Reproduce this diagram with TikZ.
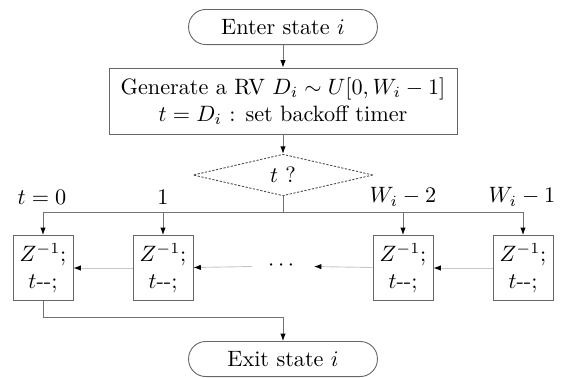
\documentclass[tikz,border=0pt]{standalone}
\usepackage{amsmath}
\usepackage{amssymb}
\usetikzlibrary{shapes.geometric,arrows.meta}

\begin{document}
\begin{tikzpicture}[x=0.45pt,y=-0.45pt,line width=0.4pt,
    term/.style={draw=black!60,rounded corners=7.8pt,minimum width=85pt,minimum height=15.8pt},
    proc/.style={draw=black!60,minimum width=156.6pt,minimum height=29.7pt,align=center,inner sep=1pt},
    test/.style={diamond,draw=black!70,dash pattern=on 1pt off 0.7pt,minimum width=81pt,minimum height=16.2pt,inner sep=0pt},
    cell/.style={draw=black!60,minimum width=27pt,minimum height=29.3pt,align=center,inner sep=0.5pt},
    arr/.style={draw=black!55,-{Latex[length=3.3pt,width=2.4pt,color=black]}},
    back/.style={draw=black!22,-{Latex[length=3.3pt,width=2.4pt,color=black]}}]
    \useasboundingbox (0,0) rectangle (570,377);
    \node[term] (enter) at (283,27) {Enter state $i$};
    \node[proc] (gen) at (283,101) {Generate a RV $D_i\sim U[0,W_i-1]$\\ $t=D_i$ : set backoff timer};
    \node[test] (dec) at (283,175) {$t$ ?};
    \coordinate (split) at (283,212);
    \node[cell] (c0) at (43,268) {$Z^{-1}$;\\ $t$-{}-;};
    \node[cell] (c1) at (163,268) {$Z^{-1}$;\\ $t$-{}-;};
    \node[minimum width=27.5pt] (dots) at (283,266) {$\cdots$};
    \node[cell] (c2) at (403,268) {$Z^{-1}$;\\ $t$-{}-;};
    \node[cell] (c3) at (523,268) {$Z^{-1}$;\\ $t$-{}-;};
    \node (l0) at (42,197) {$t=0$};
    \node (l1) at (163,197) {$1$};
    \node (l2) at (403,197) {$W_i-2$};
    \node (l3) at (522,197) {$W_i-1$};
    \coordinate (join) at (283,317);
    \node[term] (exit) at (283,359) {Exit state $i$};
    % flow
    \draw[arr] (enter) -- (gen);
    \draw[arr] (gen) -- (dec);
    \draw[draw=black!55] (dec.south) -- (split);
    \foreach \c in {c0,c1,c2,c3}
        \draw[arr] (split) -| (\c);
    \draw[back] (c1) -- (c0);
    \draw[back] (dots) -- (c1);
    \draw[back] (c2) -- (dots);
    \draw[back] (c3) -- (c2);
    \draw[arr] (c0.south) |- (join) -- (exit);
\end{tikzpicture}
\end{document}
